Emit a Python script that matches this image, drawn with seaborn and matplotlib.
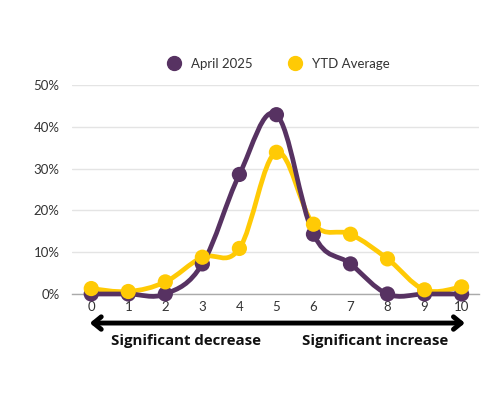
import numpy as np
import pandas as pd
import matplotlib
matplotlib.use("Agg")
import matplotlib.pyplot as plt
from matplotlib.path import Path
from matplotlib.patches import PathPatch
from matplotlib.lines import Line2D
import seaborn as sns

# data (percent)
scores = [0, 1, 2, 3, 4, 5, 6, 7, 8, 9, 10]
april_2025 = [0.0, 0.0, 0.0, 7.2, 28.6, 42.9, 14.3, 7.2, 0.0, 0.0, 0.0]
ytd_average = [1.3, 0.6, 2.9, 8.8, 10.9, 33.9, 16.7, 14.3, 8.4, 1.0, 1.7]
series_names = ["April 2025", "YTD Average"]
y_ticks = [0, 10, 20, 30, 40, 50]

PURPLE = "#573262"
YELLOW = "#FFCA05"

df = pd.DataFrame({
    "score": scores * 2,
    "value": april_2025 + ytd_average,
    "series": [series_names[0]] * len(scores) + [series_names[1]] * len(scores),
})

sns.set_style("white")
plt.rcParams["font.family"] = ["Lato", "DejaVu Sans"]

fig = plt.figure(figsize=(5, 4), dpi=100)
ax = fig.add_axes([0.144, 0.265, 0.814, 0.5225])


def smooth_path(xs, ys, k=0.18):
    # cardinal spline through the points, as cubic bezier segments
    xs = np.asarray(xs, float)
    ys = np.asarray(ys, float)
    n = len(xs)
    verts = [(xs[0], ys[0])]
    codes = [Path.MOVETO]
    for i in range(n - 1):
        p, c, nx, nn = max(i - 1, 0), i, i + 1, min(i + 2, n - 1)
        c1 = (xs[c] + k * (xs[nx] - xs[p]), ys[c] + k * (ys[nx] - ys[p]))
        c2 = (xs[nx] - k * (xs[nn] - xs[c]), ys[nx] - k * (ys[nn] - ys[c]))
        verts += [c1, c2, (xs[nx], ys[nx])]
        codes += [Path.CURVE4] * 3
    return Path(verts, codes)


for vals, col, z in [(ytd_average, YELLOW, 3), (april_2025, PURPLE, 4)]:
    ax.add_patch(PathPatch(smooth_path(scores, vals), facecolor="none",
                           edgecolor=col, lw=3.4, zorder=z, clip_on=False,
                           capstyle="round", joinstyle="round"))

sns.scatterplot(data=df, x="score", y="value", hue="series",
                palette=[PURPLE, YELLOW], s=120, edgecolor="none",
                ax=ax, zorder=5, legend=False, clip_on=False)

ax.set_xlim(-0.52, 10.47)
ax.set_ylim(0, 50)
ax.set_xticks(scores)
ax.set_yticks(y_ticks)
ax.set_yticklabels([f"{t}%" for t in y_ticks])
ax.set_xlabel("")
ax.set_ylabel("")
ax.grid(axis="y", color="#e4e4e4", lw=1)
ax.set_axisbelow(True)
for s in ["top", "right", "left"]:
    ax.spines[s].set_visible(False)
ax.spines["bottom"].set_color("#aaaaaa")
ax.spines["bottom"].set_linewidth(1)
ax.spines["bottom"].set_zorder(2)
ax.tick_params(axis="both", length=0, labelsize=9.5, colors="#333333")
ax.tick_params(axis="x", pad=5)
ax.tick_params(axis="y", pad=9)

handles = [Line2D([], [], marker="o", ls="none", color=c, markersize=10)
           for c in [PURPLE, YELLOW]]
ax.legend(handles, series_names, loc="center", bbox_to_anchor=(0.5, 1.1),
          ncol=2, frameon=False, fontsize=9.5, handletextpad=0.3,
          columnspacing=2.2, labelcolor="#333333")

# direction arrow under the axis
ax.annotate("", xy=(10.09, -0.139), xytext=(-0.04, -0.139),
            xycoords=("data", "axes fraction"),
            textcoords=("data", "axes fraction"),
            arrowprops=dict(arrowstyle="<->,head_length=0.55,head_width=0.45",
                            lw=3.5, color="black", shrinkA=0, shrinkB=0))
for label, xpos in [("Significant decrease", 2.56), ("Significant increase", 7.66)]:
    ax.text(xpos, -0.225, label, transform=ax.get_xaxis_transform(),
            ha="center", va="center", fontsize=10.8, fontweight="bold",
            family=["Open Sans", "DejaVu Sans"], color="#111111")

fig.savefig("out.png", dpi=100)
